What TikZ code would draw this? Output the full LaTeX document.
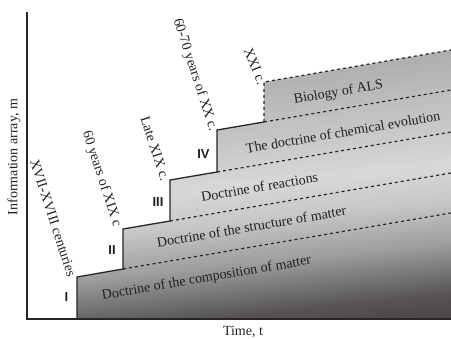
\documentclass[tikz,border=0pt]{standalone}
\usepackage{fontspec}
\setmainfont{Liberation Serif}
\newfontfamily\numfont{Liberation Sans}
\definecolor{s1}{HTML}{A4A4A4}
\definecolor{s2}{HTML}{C6C6C6}
\definecolor{s3}{HTML}{D8D8D8}
\definecolor{s4}{HTML}{C8C8C8}
\definecolor{s5}{HTML}{9C9C9C}
\definecolor{s6}{HTML}{727070}
\definecolor{s7}{HTML}{575353}
\definecolor{s8}{HTML}{433F3F}
\definecolor{txt}{HTML}{202020}
\tikzset{
  lab/.style={inner sep=0pt, text=txt, font=\fontsize{14}{16}\selectfont},
  num/.style={inner sep=0pt, text=txt, font=\numfont\bfseries\fontsize{13}{15}\selectfont},
  stepline/.style={line width=1.3pt, black!85, line join=miter},
  dashline/.style={line width=1.2pt, black!85, dash pattern=on 3pt off 3pt},
  axisline/.style={line width=1.8pt, black!85}
}
\begin{document}
\begin{tikzpicture}[x=1pt,y=-1pt]
\useasboundingbox (0,0) rectangle (451,339);
% step corners
\coordinate (a0) at (77,319);
\coordinate (a1) at (77,277);
\coordinate (b0) at (123,269);
\coordinate (b1) at (123,229);
\coordinate (c0) at (170,221);
\coordinate (c1) at (170,180);
\coordinate (d0) at (217,172);
\coordinate (d1) at (217,130);
\coordinate (e0) at (264,122);
\coordinate (e1) at (264,82);
\coordinate (f) at (451,50);
\coordinate (rb) at (451,213);
\coordinate (rc) at (451,173);
\coordinate (rd) at (451,132);
\coordinate (re) at (451,90);
\coordinate (rz) at (451,319);
% shaded fill
\begin{scope}
\clip (a0) -- (a1) -- (b0) -- (b1) -- (c0) -- (c1) -- (d0) -- (d1) -- (e0) -- (e1) -- (f) -- (rz) -- cycle;
\foreach \ua/\ub/\ca/\cb in {20/120/s1/s2, 120/165/s2/s3, 165/200/s3/s4, 200/245/s4/s5, 245/275/s5/s6, 275/295/s6/s7, 295/335/s7/s8}{
  \foreach \i in {0,...,11}{
    \pgfmathsetmacro\uu{\ua+(\ub-\ua)*\i/12}
    \pgfmathsetmacro\uv{\ua+(\ub-\ua)*(\i+1)/12+1}
    \pgfmathtruncatemacro\pp{100*(\i+0.5)/12}
    \fill[\cb!\pp!\ca] (0,{\uu+45.1}) -- (451,\uu) -- (451,\uv) -- (0,{\uv+45.1}) -- cycle;
  }
}
\end{scope}
% outlines
\draw[stepline] (a0) -- (a1) -- (b0) -- (b1) -- (c0) -- (c1) -- (d0) -- (d1) -- (e0);
\draw[dashline] (e0) -- (e1) -- (f);
\draw[dashline] (b0) -- (rb);
\draw[dashline] (c0) -- (rc);
\draw[dashline] (d0) -- (rd);
\draw[dashline] (e0) -- (re);
% axes
\coordinate (ytop) at (27,12);
\coordinate (orig) at (27,319);
\coordinate (xend) at (451,319);
\draw[axisline] (ytop) -- (orig) -- (xend);
% axis labels
\node[lab, rotate=90] (ylab) at (14,157) {Information array, m};
\node[lab] (xlab) at (243,332) {Time, t};
% period labels
\node[lab, rotate=-72] (t1) at (53,218) {XVII-XVIII centuries};
\node[lab, rotate=-72] (t2) at (101.5,179) {60 years of XIX c};
\node[lab, rotate=-72] (t3) at (155,148.5) {Late XIX c.};
\node[lab, rotate=-72] (t4) at (195,75) {60-70 years of XX c.};
\node[lab, rotate=-68] (t5) at (255,66) {XXI c.};
% roman numerals
\node[num] (n1) at (66.5,297.5) {I};
\node[num] (n2) at (112,250.5) {II};
\node[num] (n3) at (158,202.5) {III};
\node[num] (n4) at (203.5,153.7) {IV};
% band labels
\node[lab, rotate=9.7] (d1t) at (206.5,278.5) {Doctrine of the composition of matter};
\node[lab, rotate=9.7] (d2t) at (251.5,226.5) {Doctrine of the structure of matter};
\node[lab, rotate=9.7] (d3t) at (259.5,187) {Doctrine of reactions};
\node[lab, rotate=9.7] (d4t) at (343,132) {The doctrine of chemical evolution};
\node[lab, rotate=9.7] (d5t) at (338.5,92.5) {Biology of ALS};
\end{tikzpicture}
\end{document}
